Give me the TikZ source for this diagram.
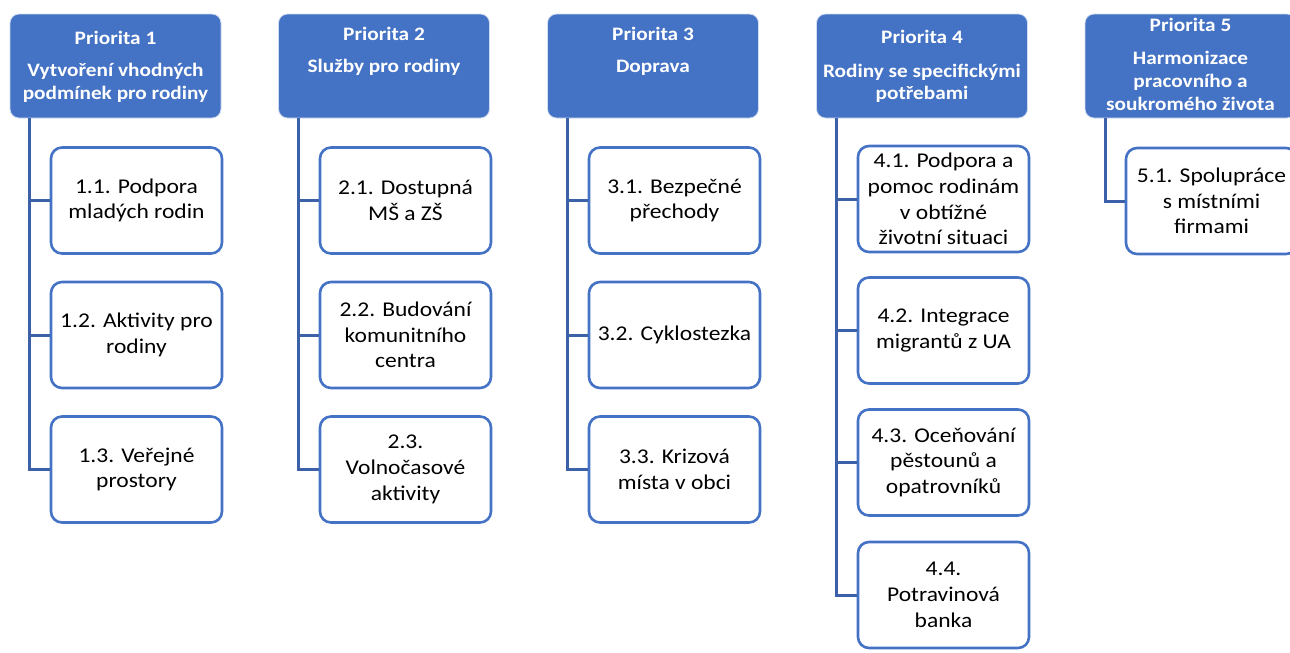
\documentclass[tikz,border=0pt]{standalone}
\usepackage{fontspec}
\setmainfont{Carlito}[FakeStretch=1.12]
\definecolor{hblue}{HTML}{4472C4}
\definecolor{cblue}{HTML}{4472C4}
\definecolor{lblue}{HTML}{3C61A8}
\begin{document}
\begin{tikzpicture}[x=1pt,y=-1pt,
  hdr/.style={fill=hblue, draw=white!75!hblue, line width=0.8pt, rounded corners=9pt,
    minimum width=211pt, minimum height=104pt, inner sep=0pt},
  htxt/.style={text=white, font=\fontsize{19}{23}\selectfont\bfseries, anchor=base, inner sep=0pt},
  child/.style={draw=cblue, line width=2.6pt, fill=white, rounded corners=11pt,
    minimum width=171pt, minimum height=106pt, align=center,
    font=\fontsize{21}{25.7}\selectfont, inner sep=0pt, text=black},
  conn/.style={draw=lblue, line width=3pt}]
\useasboundingbox (0,0) rectangle (1290,653);
\clip (0,0) rectangle (1290,653);

% headers
\node[hdr] (h1) at (115.5,66) {};
\node[hdr] (h2) at (384,66) {};
\node[hdr] (h3) at (653,66) {};
\node[hdr] (h4) at (922,66) {};
\node[hdr] (h5) at (1190.5,66) {};

\node[htxt] (h1a) at (115.5,44) {Priorita 1};
\node[htxt] (h1b) at (115.5,76) {Vytvoření vhodných};
\node[htxt] (h1c) at (115.5,99.3) {podmínek pro rodiny};

\node[htxt] (h2a) at (384,40) {Priorita 2};
\node[htxt] (h2b) at (384,72.7) {Služby pro rodiny};

\node[htxt] (h3a) at (653,40) {Priorita 3};
\node[htxt] (h3b) at (653,72.7) {Doprava};

\node[htxt] (h4a) at (922,43.3) {Priorita 4};
\node[htxt] (h4b) at (922,77) {Rodiny se specifickými};
\node[htxt] (h4c) at (922,99.5) {potřebami};

\node[htxt] (h5a) at (1190.5,31.7) {Priorita 5};
\node[htxt] (h5b) at (1190.5,64) {Harmonizace};
\node[htxt] (h5c) at (1190.5,87.3) {pracovního a};
\node[htxt] (h5d) at (1190.5,110.7) {soukromého života};

% trunk starts
\coordinate (t1) at (29,118);
\coordinate (t2) at (298,118);
\coordinate (t3) at (567,118);
\coordinate (t4) at (836,118);
\coordinate (t5) at (1105,118);

% children
\node[child] (c11) at (136.5,200.5) {1.1. Podpora\\mladých rodin};
\node[child] (c12) at (136.5,335) {1.2. Aktivity pro\\rodiny};
\node[child] (c13) at (136.5,469.5) {1.3. Veřejné\\prostory};

\node[child] (c21) at (405.5,200.5) {2.1. Dostupná\\MŠ a ZŠ};
\node[child] (c22) at (405.5,335) {2.2. Budování\\komunitního\\centra};
\node[child] (c23) at (405.5,469.5) {2.3.\\Volnočasové\\aktivity};

\node[child] (c31) at (674.5,200.5) {3.1. Bezpečné\\přechody};
\node[child] (c32) at (674.5,335) {3.2. Cyklostezka};
\node[child] (c33) at (674.5,469.5) {3.3. Krizová\\místa v obci};

\node[child] (c41) at (943.5,199) {4.1. Podpora a\\pomoc rodinám\\v obtížné\\životní situaci};
\node[child] (c42) at (943.5,330.5) {4.2. Integrace\\migrantů z UA};
\node[child] (c43) at (943.5,462.5) {4.3. Oceňování\\pěstounů a\\opatrovníků};
\node[child] (c44) at (943.5,595) {4.4.\\Potravinová\\banka};

\node[child] (c51) at (1211.5,201) {5.1. Spolupráce\\s místními\\firmami};

% connectors
\draw[conn] (t1) |- (c13.west);
\draw[conn] (t1 |- c11.west) -- (c11.west);
\draw[conn] (t1 |- c12.west) -- (c12.west);

\draw[conn] (t2) |- (c23.west);
\draw[conn] (t2 |- c21.west) -- (c21.west);
\draw[conn] (t2 |- c22.west) -- (c22.west);

\draw[conn] (t3) |- (c33.west);
\draw[conn] (t3 |- c31.west) -- (c31.west);
\draw[conn] (t3 |- c32.west) -- (c32.west);

\draw[conn] (t4) |- (c44.west);
\draw[conn] (t4 |- c41.west) -- (c41.west);
\draw[conn] (t4 |- c42.west) -- (c42.west);
\draw[conn] (t4 |- c43.west) -- (c43.west);

\draw[conn] (t5) |- (c51.west);
\end{tikzpicture}
\end{document}
